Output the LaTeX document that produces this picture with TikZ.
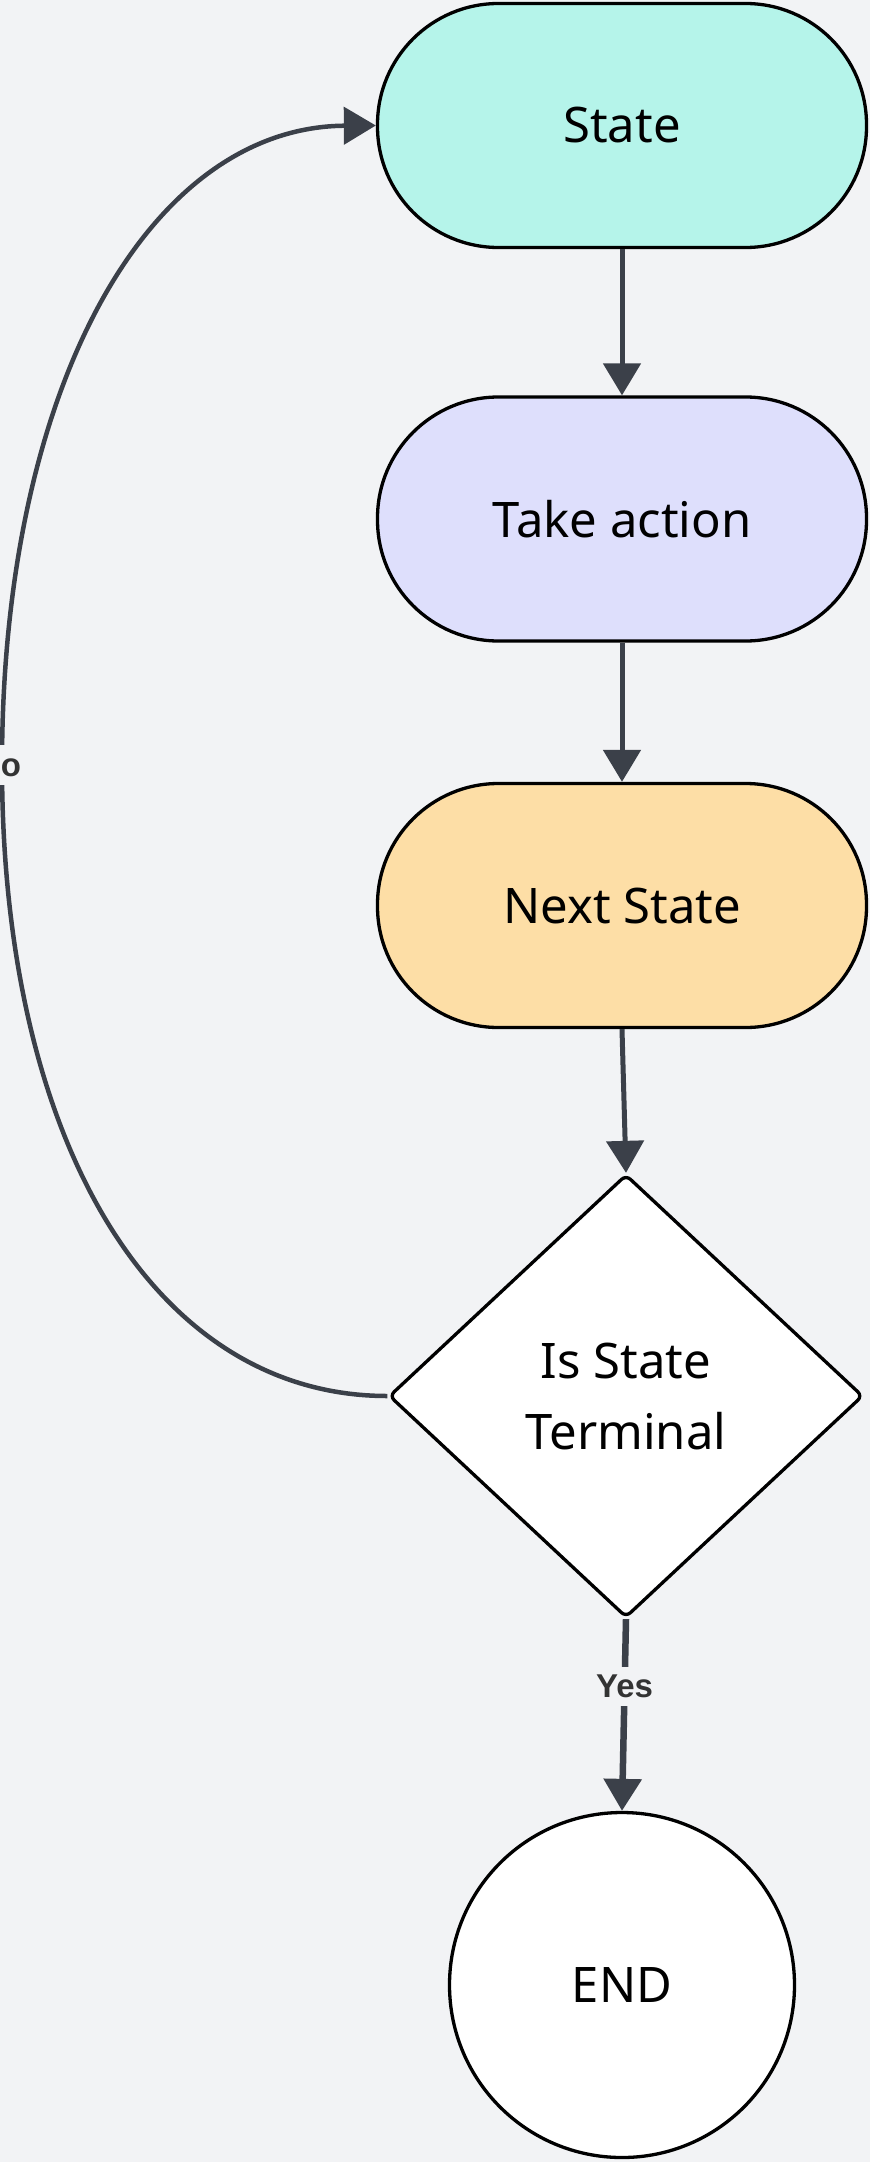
\documentclass[tikz,border=0pt]{standalone}
\usepackage{fontspec}
\setmainfont{Noto Sans}
\newfontfamily\lblfont{Liberation Sans}
\usetikzlibrary{arrows.meta,shapes.geometric}
\definecolor{bg}{HTML}{F2F3F5}
\definecolor{mint}{HTML}{B5F4EA}
\definecolor{lav}{HTML}{DEDFFC}
\definecolor{peach}{HTML}{FDDEA6}
\definecolor{edgec}{HTML}{3B4049}
\definecolor{lbltext}{HTML}{333333}
\begin{document}
\begin{tikzpicture}[x=1pt,y=-1pt,
  stadium/.style={draw=black,line width=3.3pt,rounded corners=121pt,minimum width=489pt,minimum height=244pt,inner sep=0pt,font=\fontsize{49}{58}\selectfont},
  decision/.style={draw=black,fill=white,line width=3.3pt,diamond,rounded corners=6pt,minimum width=474pt,minimum height=443pt,inner sep=0pt,align=center,font=\fontsize{49}{71}\selectfont},
  endnode/.style={draw=black,fill=white,line width=3.3pt,circle,minimum size=345pt,inner sep=0pt,font=\fontsize{49}{58}\selectfont},
  conn/.style={draw=edgec,line width=5pt,-{Triangle[length=32pt,width=37pt]}},
  lbl/.style={fill=bg,text=lbltext,font=\lblfont\bfseries\fontsize{33}{40}\selectfont,inner xsep=4pt,inner ysep=8pt}]
\fill[bg] (0,0) rectangle (870,2162);
\useasboundingbox (0,0) rectangle (870,2162);
\node[stadium,fill=mint] (state) at (622,125.5) {State};
\node[stadium,fill=lav] (take) at (622,519) {Take action};
\node[stadium,fill=peach] (next) at (622,905.5) {Next State};
\node[decision] (dec) at (626,1396) {Is State\\Terminal};
\node[endnode] (end) at (622,1985) {END};
\draw[conn] (state.south) -- (take.north);
\draw[conn] (take.south) -- (next.north);
\draw[conn] (next.south) -- (dec.north);
\draw[conn,line width=6.5pt] (dec.south) -- node[lbl,pos=0.35] (yes) {Yes} (end.north);
\draw[conn,line width=4.5pt] (dec.west) .. controls (155,1396) and (2,1144) .. (2,765) .. controls (2,382) and (151,127) .. (state.west);
\node[lbl] (no) at (-1,765) {No};
\end{tikzpicture}
\end{document}
